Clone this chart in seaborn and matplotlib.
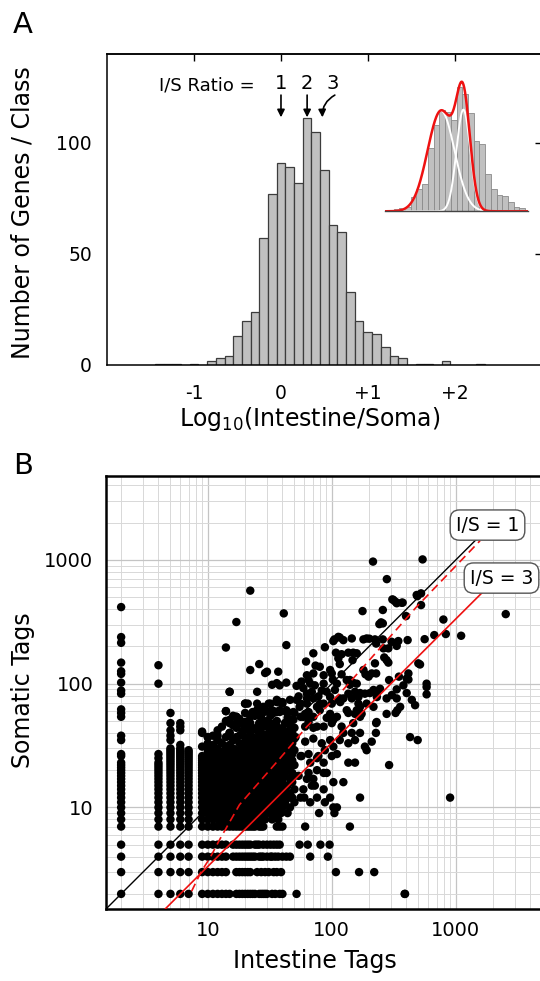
import numpy as np
import pandas as pd
import matplotlib
matplotlib.use("Agg")
import matplotlib.pyplot as plt
import seaborn as sns
from matplotlib.ticker import FixedLocator, FixedFormatter, LogLocator, NullFormatter

sns.set_theme(style="white")
plt.rcParams['font.family'] = ['DejaVu Sans']
plt.rcParams['text.color'] = 'black'
plt.rcParams['axes.labelcolor'] = 'black'
plt.rcParams['xtick.color'] = 'black'
plt.rcParams['ytick.color'] = 'black'

# ---------------- Panel A : histogram of log10(I/S) ----------------
bin_centers = [-1.4, -1.3, -1.2, -1.0, -0.8, -0.7, -0.6, -0.5, -0.4, -0.3, -0.2, -0.1,
               0.0, 0.1, 0.2, 0.3, 0.4, 0.5, 0.6, 0.7, 0.8, 0.9, 1.0, 1.1, 1.2, 1.3,
               1.4, 1.6, 1.7, 1.9, 2.3]
gene_counts = [0.5, 0.5, 0.5, 0.5, 2, 3, 4, 13, 20, 24, 57, 77,
               91, 89, 82, 111, 105, 88, 63, 60, 33, 20, 15, 14, 8, 4,
               3, 0.5, 0.5, 2, 0.5]
x_ticks_a = [-1, 0, 1, 2]
x_ticklabels_a = ['-1', '0', '+1', '+2']
y_ticks_a = [0, 50, 100]
ratio_marks = [0.0, 0.301, 0.477]
ratio_labels = ['1', '2', '3']

# two-gaussian fit shown in the inset (amplitude, centre, width)
fit_amp = [90, 91]
fit_mu = [-0.02, 0.37]
fit_sigma = [0.235, 0.12]

# ---------------- Panel B : tag scatter ----------------
col_intestine = [2, 4, 5, 6, 7, 9, 10, 11, 12, 13, 14, 15, 16, 17, 18, 19, 20]
col_somatic = [
    [7, 8, 9, 10, 11, 12, 13, 14, 15, 16, 17, 18, 19, 20, 21, 22, 23, 26, 27, 35, 38, 54, 58, 62, 83, 88, 102, 120, 126, 148, 214, 238, 416],
    [7, 8, 9, 10, 11, 12, 13, 14, 15, 16, 17, 18, 19, 20, 21, 22, 23, 25, 27, 100, 141],
    [7, 8, 9, 10, 11, 12, 13, 14, 15, 16, 17, 18, 19, 20, 21, 22, 23, 24, 25, 26, 27, 28, 29, 30, 35, 38, 42, 48, 58],
    [7, 8, 9, 10, 11, 12, 13, 14, 15, 16, 17, 18, 19, 20, 21, 22, 23, 24, 25, 26, 27, 28, 29, 30, 32, 42, 45, 48],
    [7, 8, 9, 10, 11, 12, 13, 14, 15, 16, 17, 18, 19, 20, 21, 22, 23, 24, 25, 26, 27, 28, 29],
    [7, 8, 9, 10, 11, 12, 13, 14, 15, 16, 17, 18, 19, 20, 21, 22, 23, 24, 25, 26, 31, 40],
    [7, 8, 9, 10, 11, 12, 13, 14, 15, 16, 17, 18, 19, 20, 21, 22, 24, 26, 28, 30, 33, 37],
    [7, 8, 9, 10, 11, 12, 13, 14, 15, 16, 17, 18, 19, 20, 22, 25, 28, 32, 38],
    [7, 8, 9, 10, 11, 12, 13, 14, 15, 16, 17, 18, 20, 22, 24, 27, 30, 35, 42],
    [7, 8, 9, 10, 11, 12, 13, 14, 15, 16, 17, 19, 21, 23, 25, 28, 33, 45],
    [7, 8, 9, 10, 11, 12, 13, 14, 15, 16, 18, 20, 22, 24, 26, 29, 31, 37, 50, 60, 196],
    [7, 8, 9, 10, 11, 12, 13, 14, 16, 18, 20, 22, 25, 27, 32, 40, 48, 51, 86],
    [7, 8, 9, 10, 11, 12, 13, 15, 17, 19, 21, 24, 27, 30, 35, 46, 55],
    [7, 8, 9, 10, 11, 12, 14, 16, 18, 20, 23, 26, 29, 37, 44, 54, 315],
    [7, 8, 9, 10, 11, 13, 15, 17, 19, 22, 24, 28, 33, 38, 52],
    [7, 8, 9, 10, 12, 14, 16, 18, 21, 25, 30, 41, 47],
    [7, 8, 9, 11, 13, 15, 17, 19, 22, 26, 29, 34, 43, 49, 58, 69],
]
row_somatic = [2, 3, 4, 5]
row_intestine = [
    [2, 4, 5, 6, 7, 9, 10, 11, 12, 13, 14, 15, 17, 18, 19, 20, 21, 22, 23, 24, 26, 27, 28, 29, 30, 33, 35, 38, 40, 52, 390],
    [2, 4, 5, 6, 7, 9, 10, 11, 12, 13, 14, 17, 18, 19, 20, 21, 22, 25, 27, 29, 31, 34, 36, 39, 108, 166, 220],
    [2, 4, 5, 6, 7, 9, 10, 11, 12, 13, 14, 16, 17, 18, 19, 20, 21, 22, 23, 24, 26, 27, 28, 30, 32, 33, 35, 37, 40, 43, 46, 67, 93],
    [2, 4, 5, 6, 7, 9, 10, 11, 12, 13, 14, 16, 17, 18, 19, 20, 21, 22, 24, 25, 26, 28, 30, 32, 34, 36, 38, 55, 64, 81, 96],
]
band_intestine = [21, 22, 23, 24, 25, 26, 27, 28, 29, 30, 31, 32, 33, 34, 35, 36, 37, 38, 39, 40, 42, 44, 46, 48, 50]
band_somatic = [
    [7, 8, 9, 10, 11, 12, 13, 14, 16, 18, 20, 23, 26, 30, 35],
    [7, 8, 9, 10, 12, 13, 15, 17, 19, 21, 24, 27, 33, 40, 48],
    [7, 8, 9, 11, 12, 14, 16, 18, 20, 22, 25, 29, 37, 44],
    [7, 9, 10, 11, 13, 15, 17, 19, 22, 24, 28, 31, 36, 55],
    [8, 9, 10, 12, 14, 16, 18, 21, 23, 27, 34, 42, 61],
    [7, 9, 11, 12, 13, 15, 17, 20, 25, 30, 38, 47],
    [7, 8, 10, 12, 14, 16, 19, 22, 26, 32, 40, 53],
    [7, 9, 10, 11, 13, 15, 18, 21, 24, 29, 36, 45, 59],
    [8, 10, 12, 14, 17, 20, 23, 27, 33, 48],
    [9, 11, 13, 16, 19, 22, 25, 31, 39, 50],
    [10, 12, 14, 15, 18, 21, 26, 35, 44],
    [9, 11, 13, 17, 20, 24, 28, 37, 47, 55],
    [8, 10, 12, 15, 19, 23, 30, 34, 42],
    [11, 13, 16, 18, 21, 27, 33, 39, 60],
    [9, 12, 14, 17, 20, 25, 29, 36, 46],
    [7, 10, 11, 15, 19, 22, 26, 31, 41, 50, 71],
    [8, 12, 13, 16, 21, 24, 28, 35, 44],
    [7, 11, 14, 18, 20, 23, 27, 32, 38, 61],
    [9, 12, 15, 17, 22, 25, 30, 37, 40],
    [7, 10, 13, 16, 19, 24, 29, 34, 43],
    [11, 14, 18, 21, 26, 31, 36, 48],
    [9, 12, 15, 20, 23, 28, 35, 41, 53],
    [10, 13, 17, 21, 25, 30, 37, 46],
    [12, 16, 19, 24, 27, 33, 40],
    [11, 14, 18, 22, 29, 36, 44, 58],
]
scatter_pairs = [
    (22, 565), (41, 370), (43, 205), (215, 970), (540, 1010), (278, 700), (2530, 365),
    (1105, 244), (831, 252), (795, 330), (900, 12), (387, 2), (290, 22), (428, 37), (493, 35),
    (308, 480), (327, 459), (366, 451), (314, 475), (334, 447), (373, 452), (484, 521), (490, 510),
    (525, 537), (525, 432), (258, 394), (177, 386), (397, 352), (250, 313), (258, 307), (242, 303),
    (671, 247), (561, 229), (409, 225), (344, 221), (304, 218), (334, 202), (258, 228), (228, 211),
    (191, 232), (180, 228), (223, 228), (201, 231), (286, 193), (261, 193), (277, 155), (265, 163),
    (499, 146), (286, 148), (515, 143), (223, 146), (415, 121), (402, 110), (348, 114), (415, 108),
    (378, 97), (334, 90), (582, 100), (582, 94), (582, 82), (290, 107), (245, 91), (230, 84),
    (228, 121), (180, 129), (187, 119), (338, 61), (327, 58), (228, 48), (203, 84), (231, 78),
    (277, 76), (305, 81), (334, 76), (402, 84), (217, 89), (217, 65), (277, 57), (356, 65),
    (442, 74), (470, 67), (210, 34), (227, 40), (230, 49), (169, 12), (140, 7), (124, 16),
    (105, 228), (116, 236), (124, 225), (145, 232), (113, 239), (88, 197), (71, 176),
    (108, 178), (120, 173), (136, 178), (149, 178), (159, 176), (147, 155), (103, 221),
    (62, 151), (74, 140), (80, 137), (116, 144), (113, 160), (100, 121), (120, 119), (140, 107),
    (148, 102), (210, 121), (57, 104), (63, 117), (71, 121), (86, 117), (97, 129), (102, 108),
    (86, 100), (67, 100), (65, 107), (59, 92), (52, 96), (73, 97), (63, 83), (71, 76), (83, 88),
    (91, 86), (69, 86), (106, 89), (110, 100), (132, 107), (159, 100), (198, 114), (140, 98),
    (124, 76), (136, 83), (154, 86), (169, 84), (164, 78), (185, 83), (145, 76), (116, 76),
    (100, 69), (117, 71), (113, 74), (97, 78), (78, 79), (54, 79), (86, 69), (76, 65), (63, 69),
    (132, 61), (154, 57), (169, 65), (174, 57), (164, 69), (191, 69), (159, 61), (97, 57),
    (61, 57), (71, 54), (80, 61), (67, 54), (52, 74), (46, 74), (36, 74), (32, 69), (28, 65),
    (25, 69), (21, 69), (22, 54), (17, 54), (15, 49), (103, 51), (120, 45), (124, 40), (145, 40),
    (169, 40), (136, 33), (154, 35), (116, 35), (185, 31), (191, 29), (154, 23), (136, 23),
    (103, 31), (88, 29), (78, 26), (67, 23), (57, 26), (65, 19), (71, 17), (59, 14), (67, 11),
    (86, 19), (88, 11), (79, 9), (73, 15), (60, 12), (105, 9), (103, 10), (110, 54), (136, 58),
    (149, 48), (169, 54), (100, 48), (86, 45), (71, 44), (61, 45), (46, 51), (55, 65), (65, 59),
    (80, 69), (43, 59), (34, 58), (27, 56), (40, 71), (31, 69), (23, 59), (33, 98), (36, 101),
    (25, 86), (20, 69), (22, 129), (26, 144), (30, 125), (37, 125), (29, 122), (43, 102),
    (15, 86), (38, 97), (14, 60), (25, 61), (30, 60), (36, 59), (44, 59),
    (37, 72), (40, 69), (28, 59), (33, 61), (38, 59), (43, 61), (49, 59), (56, 69), (63, 76),
    (59, 54), (17, 48), (20, 49), (21, 45), (26, 48), (32, 48), (36, 45), (42, 48), (49, 51),
    (56, 54), (65, 49), (76, 45), (91, 53), (9, 41), (10, 37), (12, 35), (12, 38), (15, 40),
    (16, 35), (20, 37), (22, 33), (25, 35), (28, 37), (35, 40), (41, 37), (46, 35), (51, 37),
    (61, 34), (71, 36), (83, 33), (97, 35), (49, 29), (56, 26), (65, 27), (76, 25), (86, 23),
    (100, 26), (110, 27), (46, 21), (54, 18), (63, 17), (76, 20), (91, 19), (103, 16), (86, 14),
    (76, 12), (69, 15), (56, 12), (46, 12), (97, 12), (110, 10), (61, 7),
]

# reference lines (I/S = 1, fitted, I/S = 3)
unity_intestine = [1.51, 1520]
unity_somatic = [1.51, 1520]
fit_intestine = [7.4, 8.8, 10.4, 12.6, 18, 37, 63, 117, 484, 1570]
fit_somatic = [2.1, 3.0, 3.9, 5.6, 10.5, 24, 45, 84, 419, 1430]
ratio3_intestine = [4.53, 1680]
ratio3_somatic = [1.51, 560]
xy_ticks_b = [10, 100, 1000]
xy_ticklabels_b = ['10', '100', '1000']

# ---------------- figure ----------------
fig = plt.figure(figsize=(5.4, 9.81), dpi=100)
fig.patch.set_facecolor('white')

hist_df = pd.DataFrame({'log_ratio': bin_centers, 'genes': gene_counts})
edges = [round(v / 10.0, 2) for v in np.arange(-14.5, 24.0, 1.0)]

# Panel A
axA = fig.add_axes([107.3 / 540, 1 - 365 / 981, 434.2 / 540, 311 / 981])
sns.histplot(data=hist_df, x='log_ratio', weights='genes', bins=edges, ax=axA,
             color='#c0c0c0', edgecolor='#3c3c3c', linewidth=0.9, alpha=1.0)
axA.set_xlim(-2.0, 3.0)
axA.set_ylim(0, 140)
axA.set_xticks(x_ticks_a)
axA.set_xticklabels(x_ticklabels_a)
axA.set_yticks(y_ticks_a)
axA.set_yticklabels([str(v) for v in y_ticks_a])
axA.tick_params(axis='both', direction='out', length=5, width=1.0, color='black',
                labelcolor='black', labelsize=13.5, pad=6)
axA.tick_params(axis='x', pad=9)
for s in axA.spines.values():
    s.set_visible(True)
    s.set_color('black')
    s.set_linewidth(1.1)
secx = axA.secondary_xaxis('top')
secx.set_xticks(x_ticks_a)
secx.set_xticklabels([])
secx.tick_params(direction='in', length=5, width=1.0)
secy = axA.secondary_yaxis('right')
secy.set_yticks([50, 100])
secy.set_yticklabels([])
secy.tick_params(direction='in', length=5, width=1.0)
axA.set_ylabel('Number of Genes / Class', fontsize=17)
axA.yaxis.set_label_coords(-0.168, 0.49)
axA.set_xlabel(r'Log$_{10}$(Intestine/Soma)', fontsize=17)
axA.xaxis.set_label_coords(0.465, -0.13)
axA.grid(False)

axA.text(-1.40, 126, 'I/S Ratio =', fontsize=13, ha='left', va='center')
for lab, xt in zip(ratio_labels, [0.0, 0.301, 0.60]):
    axA.text(xt, 126.5, lab, fontsize=14, ha='center', va='center')
for xm in ratio_marks[:2]:
    axA.annotate('', xy=(xm, 111.5), xytext=(xm, 121.5),
                 arrowprops=dict(arrowstyle='-|>', color='black', lw=1.2,
                                 mutation_scale=11, shrinkA=0, shrinkB=0))
axA.annotate('', xy=(ratio_marks[2], 111.5), xytext=(0.62, 121.5),
             arrowprops=dict(arrowstyle='-|>', color='black', lw=1.2, mutation_scale=11,
                             shrinkA=0, shrinkB=0, connectionstyle='arc3,rad=0.3'))

# inset
axI = fig.add_axes([385 / 540, 1 - 211.3 / 981, 143 / 540, 134 / 981])
axI.patch.set_alpha(0)
sns.histplot(data=hist_df, x='log_ratio', weights='genes', bins=edges, ax=axI,
             color='#c0c0c0', edgecolor='#8a8a8a', linewidth=0.6, alpha=1.0)
xs = np.linspace(-1.0, 1.5, 400)
g1 = fit_amp[0] * np.exp(-(xs - fit_mu[0]) ** 2 / (2 * fit_sigma[0] ** 2))
g2 = fit_amp[1] * np.exp(-(xs - fit_mu[1]) ** 2 / (2 * fit_sigma[1] ** 2))
axI.plot(xs, g1, color='white', lw=1.4)
axI.plot(xs, g2, color='white', lw=1.4)
axI.plot(xs, g1 + g2, color='#ee1111', lw=1.8)
axI.set_xlim(-1.0, 1.5)
axI.set_ylim(0, 120)
axI.set_xticks([-0.5, 0, 0.5, 1.0])
axI.set_xticklabels([])
axI.set_yticks([])
axI.tick_params(axis='x', direction='in', length=2, width=0.8, color='#444444')
for k, s in axI.spines.items():
    s.set_visible(k == 'bottom')
axI.spines['bottom'].set_color('#444444')
axI.spines['bottom'].set_linewidth(1.0)
axI.set_xlabel('')
axI.set_ylabel('')
axI.grid(False)

# Panel B
xs_b, ys_b = [], []
for xv, ylist in zip(col_intestine, col_somatic):
    xs_b += [xv] * len(ylist)
    ys_b += ylist
for yv, xlist in zip(row_somatic, row_intestine):
    xs_b += xlist
    ys_b += [yv] * len(xlist)
for xv, ylist in zip(band_intestine, band_somatic):
    xs_b += [xv] * len(ylist)
    ys_b += ylist
for xv, yv in scatter_pairs:
    xs_b.append(xv)
    ys_b.append(yv)
df = pd.DataFrame({'Intestine Tags': xs_b, 'Somatic Tags': ys_b})

axB = fig.add_axes([106 / 540, 1 - 909 / 981, 435 / 540, 433 / 981])
axB.set_xscale('log')
axB.set_yscale('log')
sns.scatterplot(data=df, x='Intestine Tags', y='Somatic Tags', ax=axB, color='black',
                s=37, edgecolor='none', linewidth=0, zorder=3)
axB.plot(unity_intestine, unity_somatic, color='black', lw=1.0, zorder=4)
axB.plot(fit_intestine, fit_somatic, color='#ee1111', lw=1.2, ls=(0, (5, 3)), zorder=4)
axB.plot(ratio3_intestine, ratio3_somatic, color='#ee1111', lw=1.2, zorder=4)
axB.set_xlim(1.51, 4870)
axB.set_ylim(1.51, 4770)
for ax_ in (axB.xaxis, axB.yaxis):
    ax_.set_major_locator(FixedLocator(xy_ticks_b))
    ax_.set_major_formatter(FixedFormatter(xy_ticklabels_b))
    ax_.set_minor_locator(LogLocator(base=10, subs=np.arange(2, 10)))
    ax_.set_minor_formatter(NullFormatter())
axB.tick_params(which='major', direction='out', length=5, width=1.2, color='black',
                labelcolor='black', labelsize=14, pad=4)
axB.tick_params(which='minor', length=0)
axB.set_axisbelow(True)
axB.grid(True, which='major', color='#c4c4c4', lw=0.9)
axB.grid(True, which='minor', color='#d8d8d8', lw=0.7)
for s in axB.spines.values():
    s.set_visible(True)
    s.set_color('black')
    s.set_linewidth(1.8)
axB.set_xlabel('Intestine Tags', fontsize=17)
axB.xaxis.set_label_coords(0.48, -0.092)
axB.set_ylabel('Somatic Tags', fontsize=17)
axB.yaxis.set_label_coords(-0.164, 0.505)
box = dict(boxstyle='round,pad=0.3,rounding_size=0.5', fc='white', ec='#555555', lw=1.0)
axB.text(1803, 1914, 'I/S = 1', fontsize=13.5, ha='center', va='center', bbox=box, zorder=5)
axB.text(2339, 714, 'I/S = 3', fontsize=13.5, ha='center', va='center', bbox=box, zorder=5)

fig.text(23 / 540, 1 - 25 / 981, 'A', fontsize=21, ha='center', va='center')
fig.text(23 / 540, 1 - 466 / 981, 'B', fontsize=21, ha='center', va='center')

fig.savefig('out.png', dpi=100, facecolor='white')
